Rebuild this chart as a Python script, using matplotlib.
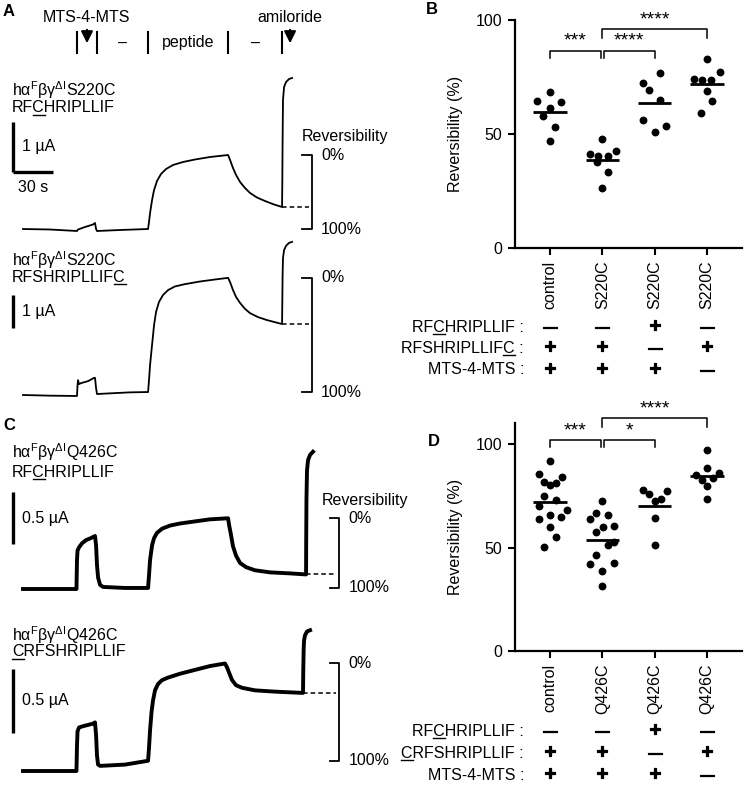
import numpy as np
import matplotlib
matplotlib.use('Agg')
import matplotlib.pyplot as plt
import matplotlib.transforms as mtransforms
import matplotlib.patheffects as pe
from matplotlib.lines import Line2D

plt.rcParams['font.family'] = ['Liberation Sans', 'DejaVu Sans']
plt.rcParams['mathtext.fontset'] = 'custom'
plt.rcParams['mathtext.rm'] = 'Liberation Sans'
plt.rcParams['mathtext.it'] = 'Liberation Sans:italic'
plt.rcParams['mathtext.bf'] = 'Liberation Sans:bold'

# ---- traces (time in s, current in µA) ----
a1_t = [0, 20.3, 40.5, 41.3, 46.5, 52.5, 54, 54.8, 55.5, 72.8, 93.8,
        94.5, 95.3, 96.8, 98.3, 100.5, 103.5, 107.3, 112.5, 120, 129, 140.3, 153.8,
        155.3, 157.5, 159.8, 162.8, 166.5, 170.3, 175.5, 181.5, 188.3, 194.3,
        194.5, 194.7, 195, 195.8, 197.3, 199.5, 201.8]
a1_i = [0, -0.01, -0.04, -0.01, 0.04, 0.09, 0.12, 0, -0.04, -0.02, 0,
        0.14, 0.32, 0.58, 0.78, 0.96, 1.10, 1.20, 1.28, 1.34, 1.39, 1.44, 1.48,
        1.38, 1.22, 1.08, 0.94, 0.82, 0.72, 0.63, 0.56, 0.49, 0.44,
        0.98, 1.78, 2.58, 2.84, 2.94, 3.0, 3.02]

a2_t = [0, 20.3, 40.5, 40.9, 41.3, 42, 43.5, 48.8, 53.3, 54, 54.8, 55.5, 65.3, 80.3, 93.8,
        94.5, 95.3, 96.8, 98.3, 99.8, 102, 105, 108.8, 114, 121.5, 132.8, 144, 153.8,
        155.3, 157.5, 159.8, 162.8, 166.5, 170.3, 176.3, 183, 194.3,
        194.5, 194.7, 195, 195.8, 197.3, 199.5, 201.8]
a2_i = [0, -0.02, -0.03, 0.30, 0.45, 0.33, 0.36, 0.42, 0.52, 0.52, 0.21, 0.03, 0.05, 0.08, 0.09,
        0.45, 0.91, 1.52, 2.12, 2.52, 2.82, 3.03, 3.18, 3.29, 3.36, 3.44, 3.50, 3.55,
        3.42, 3.18, 2.97, 2.79, 2.61, 2.48, 2.36, 2.27, 2.15,
        2.88, 3.64, 4.15, 4.39, 4.52, 4.61, 4.64]

c1_t = [0, 20.3, 40.1, 40.5, 40.9, 42, 44.3, 47.3, 51, 54, 54.8, 55.5, 56.3, 57.8, 60, 76.5, 93.8,
        94.5, 95.3, 96.8, 98.3, 100.5, 104.3, 110.3, 117.8, 129, 140.3, 153.8,
        154.5, 156, 157.5, 159.8, 162.8, 167.3, 174, 185.3, 200.3, 212.3,
        212.4, 212.6, 213, 213.8, 215.3, 217.5]
c1_i = [0, 0, 0, 0.28, 0.37, 0.40, 0.44, 0.47, 0.49, 0.51, 0.42, 0.23, 0.11, 0.04, 0.02, 0.01, 0.01,
        0.13, 0.28, 0.42, 0.49, 0.54, 0.58, 0.61, 0.63, 0.65, 0.67, 0.68,
        0.62, 0.52, 0.41, 0.32, 0.25, 0.21, 0.18, 0.16, 0.15, 0.14,
        0.47, 0.86, 1.14, 1.24, 1.29, 1.32]

c2_t = [0, 20.3, 40.1, 40.5, 40.9, 42, 45, 48.8, 52.5, 54, 54.8, 55.5, 56.3, 57.8, 76.5, 93.8,
        94.5, 95.3, 96.4, 97.5, 99, 101.3, 104.3, 108.8, 117.8, 129, 140.3, 151.5,
        153, 154.5, 156.8, 159.8, 164.3, 174, 189, 210,
        210.2, 210.5, 210.8, 211.5, 213, 215.3]
c2_i = [0, 0, 0, 0.2, 0.31, 0.34, 0.35, 0.36, 0.37, 0.38, 0.28, 0.12, 0.05, 0.04, 0.05, 0.08,
        0.18, 0.32, 0.46, 0.55, 0.63, 0.68, 0.71, 0.73, 0.76, 0.79, 0.82, 0.84,
        0.81, 0.77, 0.71, 0.67, 0.65, 0.63, 0.62, 0.61,
        0.79, 0.95, 1.02, 1.06, 1.09, 1.10]

switch_t = [40.5, 55.5, 93.8, 153.8, 194.3]   # solution changes (A)
amil_arrow_t = 200.3
peptide_on = 93.8
amil_a1, amil_a2, amil_c1, amil_c2 = 194.3, 194.3, 212.3, 210.0

# ---- reversibility dot plots ----
b_names = ['control', 'S220C', 'S220C', 'S220C']
b_vals = [[64.6, 68.5, 64.1, 61.6, 57.8, 53.0, 46.9],
          [48.0, 41.1, 40.4, 40.4, 42.5, 37.5, 33.4, 26.1],
          [72.5, 76.9, 69.5, 64.9, 56.1, 53.6, 50.8],
          [82.7, 74.1, 73.6, 73.6, 77.0, 68.8, 64.6, 59.4]]
b_jit = [[-0.24, 0, 0.21, 0, -0.13, 0.1, 0],
         [0, -0.24, -0.08, 0.1, 0.26, -0.1, 0.1, 0],
         [-0.22, 0.1, -0.11, 0.1, -0.22, 0.22, 0],
         [0, -0.25, -0.1, 0.08, 0.25, 0, 0.1, -0.12]]

d_names = ['control', 'Q426C', 'Q426C', 'Q426C']
d_vals = [[91.8, 85.5, 81.8, 80.2, 81.3, 83.9, 74.9, 72.9, 70.0, 68.1, 63.6, 65.7, 64.6, 59.8, 54.9, 50.1],
          [72.6, 66.8, 63.8, 65.7, 60.1, 60.4, 57.6, 51.2, 52.8, 46.4, 42.0, 42.7, 38.6, 31.4],
          [77.8, 75.7, 72.6, 73.3, 77.3, 64.1, 51.2],
          [97.1, 88.3, 85.0, 82.6, 83.7, 85.8, 79.9, 73.3]]
d_jit = [[0, -0.22, -0.115, -0.01, 0.11, 0.22, -0.115, 0.11, -0.22, 0.32, -0.22, -0.01, 0.2, 0, 0.11, -0.115],
         [0, -0.115, -0.23, 0.1, 0.01, 0.22, -0.115, 0.1, 0.22, -0.115, -0.23, 0.22, 0, 0],
         [-0.22, -0.11, 0, 0.13, 0.24, 0, 0],
         [0, 0, -0.21, -0.1, 0.11, 0.23, 0, 0]]

# labels split as (before, underlined letter, after)
b_rows = [('RF', 'C', 'HRIPLLIF :'), ('RFSHRIPLLIF', 'C', ' :'), ('MTS-4-MTS :', '', '')]
d_rows = [('RF', 'C', 'HRIPLLIF :'), ('', 'C', 'RFSHRIPLLIF :'), ('MTS-4-MTS :', '', '')]
row_signs = [['-', '-', '+', '-'], ['+', '+', '-', '+'], ['+', '+', '+', '-']]

b_sig = [(0, 0.97, 86.4, 3.2, '***'), (1.03, 2, 86.4, 3.2, '****'), (1, 3, 95.9, 3.7, '****')]
d_sig = [(0, 0.97, 101.9, 3.5, '***'), (1.03, 2, 101.9, 3.5, '*'), (1, 3, 112.4, 4.0, '****')]

# ---- figure ----
W, H = 745, 786
fig = plt.figure(figsize=(W / 100, H / 100), dpi=100)
renderer = fig.canvas.get_renderer()
FS = 11.5


def px_axes(x0, y0, x1, y1):
    return fig.add_axes([x0 / W, 1 - y1 / H, (x1 - x0) / W, (y1 - y0) / H])


def ptext(x, y, s, **kw):
    kw.setdefault('fontsize', FS)
    kw.setdefault('va', 'center')
    return fig.text(x / W, 1 - y / H, s, **kw)


def ul_text(x, y, parts, ha='left'):
    before, ch, after = parts
    s = before + ch + after
    t = ptext(x, y, s, ha=ha)
    if not ch:
        return t
    prop = t.get_fontproperties()
    width = lambda txt: renderer.get_text_width_height_descent(txt, prop, False)[0] if txt else 0
    x0 = x if ha == 'left' else x - width(s)
    xa, xb = x0 + width(before), x0 + width(before + ch)
    fig.add_artist(Line2D([xa / W, xb / W], [1 - (y + 7) / H] * 2, color='black', lw=1,
                          transform=fig.transFigure))
    return t


TX = (-23 * 0.75, (400 - 23) * 0.75)   # time range across left column


def trace_axes(y0, y1, base, scale):
    ax = px_axes(0, y0, 400, y1)
    ax.set_xlim(*TX)
    ax.set_ylim((base - y1) / scale, (base - y0) / scale)
    ax.axis('off')
    return ax


def draw_trace(ax, t, i, amil, t_br, lw):
    t = np.array(t); i = np.array(i)
    ax.plot(t, i, color='black', lw=lw, solid_joinstyle='round', clip_on=False)
    top = i[t <= amil].max()
    bot = np.interp(peptide_on, t, i)
    res = np.interp(amil, t, i)
    ax.plot([amil, t_br - 2], [res, res], color='black', lw=1.1, ls=(0, (3, 2)))
    ax.plot([t_br - 7, t_br, t_br, t_br - 7], [top, top, bot, bot], color='black', lw=1.3,
            clip_on=False)
    ax.text(t_br + 7, top, '0%', fontsize=FS, va='center')
    ax.text(t_br + 7, bot, '100%', fontsize=FS, va='center')


def scale_bar(ax, t0, i0, amp, label, dur=None):
    ax.plot([t0, t0], [i0, i0 + amp], color='black', lw=2.4, clip_on=False,
            solid_capstyle='butt')
    if dur:
        ax.plot([t0, t0 + dur], [i0, i0], color='black', lw=2.4, clip_on=False,
                solid_capstyle='butt')
    ax.text(t0 + 7, i0 + amp / 2, label, fontsize=FS, va='center')


geno = lambda m: 'h\u03b1$^{\\mathrm{F}}$\u03b2\u03b3$^{\\mathrm{\u0394I}}$' + m

# panel A header
hd = px_axes(0, 0, 400, 60)
hd.set_xlim(*TX); hd.set_ylim(60, 0); hd.axis('off')
for s in switch_t:
    hd.plot([s, s], [32, 53], color='black', lw=1.5)
mts_t = (switch_t[0] + switch_t[1]) / 2
for x, lab in [(mts_t, 'MTS-4-MTS'), (amil_arrow_t, 'amiloride')]:
    hd.annotate('', xy=(x, 46), xytext=(x, 27),
                arrowprops=dict(arrowstyle='-|>,head_length=0.7,head_width=0.35', color='black', lw=1.5))
    hd.text(x, 18, lab, ha='center', va='center', fontsize=FS)
for a, b, lab in [(switch_t[1], switch_t[2], '\u2013'), (switch_t[2], switch_t[3], 'peptide'),
                  (switch_t[3], switch_t[4], '\u2013')]:
    hd.text((a + b) / 2, 43, lab, ha='center', va='center', fontsize=FS)

# A traces
axa1 = trace_axes(60, 240, 229, 50)
draw_trace(axa1, a1_t, a1_i, amil_a1, 216.5, 1.3)
scale_bar(axa1, -7.5, 1.14, 1, '1 \u00b5A', dur=30)
axa1.text(-7.5 + 15, 1.14 - 0.31, '30 s', fontsize=FS, ha='center', va='center')
ptext(12, 90, geno('S220C'))
ul_text(12, 108, ('RF', 'C', 'HRIPLLIF'))
ptext(302, 137, 'Reversibility')

axa2 = trace_axes(235, 400, 395, 33)
draw_trace(axa2, a2_t, a2_i, amil_a2, 216.5, 1.3)
scale_bar(axa2, -7.5, 2.03, 1, '1 \u00b5A')
ptext(12, 260, geno('S220C'))
ul_text(12, 277, ('RFSHRIPLLIF', 'C', ''))

# C traces
axc1 = trace_axes(440, 600, 589, 104)
draw_trace(axc1, c1_t, c1_i, amil_c1, 237, 2.8)
scale_bar(axc1, -7.5, 0.43, 0.5, '0.5 \u00b5A')
ptext(12, 452, geno('Q426C'))
ul_text(12, 472, ('RF', 'C', 'HRIPLLIF'))
ptext(322, 501, 'Reversibility')

axc2 = trace_axes(620, 786, 771, 128)
draw_trace(axc2, c2_t, c2_i, amil_c2, 237, 2.8)
scale_bar(axc2, -7.5, 0.30, 0.5, '0.5 \u00b5A')
ptext(12, 635, geno('Q426C'))
ul_text(12, 652, ('', 'C', 'RFSHRIPLLIF'))

bold = [pe.withStroke(linewidth=0.9, foreground='black')]


# dot plots
def dot_panel(ax, vals, jit, names, ymax, sig, rows, row_y):
    for k, (v, j) in enumerate(zip(vals, jit)):
        ax.scatter(k + np.array(j), v, s=32, color='black', zorder=3, clip_on=False, lw=0)
        ax.hlines(np.mean(v), k - 0.32, k + 0.32, color='black', lw=2, zorder=4)
    ax.set_xlim(-0.67, 3.67)
    ax.set_ylim(0, ymax)
    ax.set_yticks([0, 50, 100])
    ax.set_xticks(range(4))
    ax.set_xticklabels(names, rotation=90)
    ax.tick_params(labelsize=FS, width=1.5, length=5, pad=4)
    for sp in ['top', 'right']:
        ax.spines[sp].set_visible(False)
    for sp in ['left', 'bottom']:
        ax.spines[sp].set_linewidth(1.6)
    ax.set_ylabel('Reversibility (%)', fontsize=FS)
    ax.yaxis.set_label_coords(-0.229, 0.5)
    for x1, x2, y, h, txt in sig:
        ax.plot([x1, x1, x2, x2], [y - h, y, y, y - h], color='black', lw=1.1, clip_on=False)
        ax.text((x1 + x2) / 2, y + 0.5, txt, ha='center', va='bottom', fontsize=14)
    trans = mtransforms.blended_transform_factory(ax.transData, fig.transFigure)
    for r, (parts, py) in enumerate(zip(rows, row_y)):
        ul_text(524, py, parts, ha='right')
        for k, sgn in enumerate(row_signs[r]):
            if sgn == '+':
                ax.text(k, 1 - py / H, '+', transform=trans, ha='center', va='center',
                        fontsize=14, fontweight='bold', path_effects=bold)
            else:
                ax.text(k, 1 - py / H, '\u2014', transform=trans, ha='center', va='center',
                        fontsize=10, fontweight='bold', path_effects=bold)


axb = px_axes(515, 20, 742, 248)
dot_panel(axb, b_vals, b_jit, b_names, 100, b_sig, b_rows, [327, 348, 370])
axd = px_axes(515, 423, 742, 651)
dot_panel(axd, d_vals, d_jit, d_names, 110.2, d_sig, d_rows, [731, 753, 775])

for lab, x, y in [('A', 9, 12), ('B', 432, 10), ('C', 9, 425), ('D', 434, 442)]:
    ptext(x, y, lab, ha='center', fontweight='bold', fontsize=12)

fig.savefig('out.png', dpi=100)
